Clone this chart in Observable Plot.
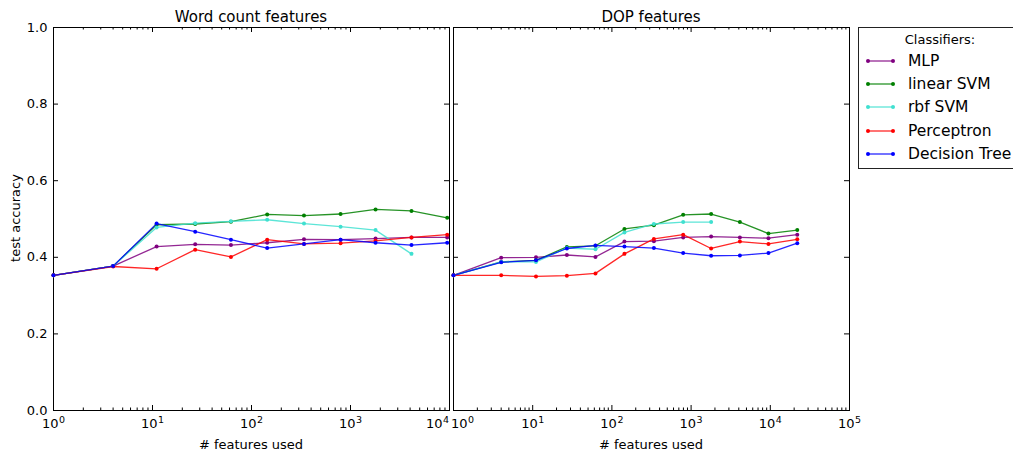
<!DOCTYPE html>
<html><head><meta charset="utf-8">
<script src="https://cdn.jsdelivr.net/npm/d3@7"></script>
<script src="https://cdn.jsdelivr.net/npm/@observablehq/plot@0.6"></script>
<style>
body{margin:0;background:#fff;font-family:"DejaVu Sans",sans-serif;color:#000;}
#root{position:relative;width:1013px;height:454px;overflow:hidden;background:#fff;}
.abs{position:absolute;white-space:nowrap;transform:translate(-50%,-50%);}
.title{font-size:15px;}
.lab{font-size:13px;}
#legend{position:absolute;left:858px;top:27px;width:170px;height:140px;border:1px solid #222;background:#fff;}
#legend .ltitle{position:absolute;left:81px;top:11px;transform:translate(-50%,-50%);font-size:13px;white-space:nowrap;}
#legend .entry{position:absolute;left:0;height:20px;}
#legend .entry span{position:absolute;left:49px;top:0;font-size:15.5px;line-height:20px;white-space:nowrap;}
#legend svg{position:absolute;left:6px;top:5px;}
</style>
</head><body>
<div id="root"></div>
<script>
// ---------- data ----------
const classifiers = ["MLP", "linear SVM", "rbf SVM", "Perceptron", "Decision Tree"];
const colors = ["purple", "green", "turquoise", "red", "blue"];

const wordFeatures = [1, 4, 11, 27, 62, 144, 339, 794, 1790, 4130, 9480];
const wordMLP    = [0.353, 0.377, 0.428, 0.434, 0.432, 0.438, 0.447, 0.446, 0.449, 0.452, 0.452];
const wordLinear = [0.353, 0.377, 0.485, 0.487, 0.493, 0.512, 0.509, 0.513, 0.525, 0.521, 0.503];
const wordRbf    = [0.353, 0.377, 0.478, 0.489, 0.494, 0.498, 0.488, 0.480, 0.471, 0.409];
const wordPerc   = [0.353, 0.376, 0.370, 0.420, 0.401, 0.446, 0.435, 0.437, 0.443, 0.452, 0.459];
const wordTree   = [0.353, 0.377, 0.488, 0.467, 0.446, 0.424, 0.435, 0.446, 0.438, 0.432, 0.438];

const dopFeatures = [1, 4, 11, 27, 62, 144, 339, 794, 1790, 4130, 9480, 21900];
const dopMLP    = [0.353, 0.399, 0.400, 0.406, 0.401, 0.441, 0.442, 0.452, 0.454, 0.452, 0.450, 0.459];
const dopLinear = [0.353, 0.388, 0.392, 0.427, 0.430, 0.474, 0.484, 0.511, 0.513, 0.492, 0.462, 0.471];
const dopRbf    = [0.353, 0.388, 0.388, 0.424, 0.421, 0.465, 0.487, 0.492, 0.492];
const dopPerc   = [0.353, 0.353, 0.350, 0.352, 0.358, 0.409, 0.448, 0.459, 0.423, 0.441, 0.435, 0.447];
const dopTree   = [0.353, 0.387, 0.392, 0.423, 0.431, 0.428, 0.424, 0.411, 0.404, 0.405, 0.411, 0.437];

const yTicks = [0, 0.2, 0.4, 0.6, 0.8, 1.0];

// ---------- helpers ----------
function rows(features, seriesList) {
  return seriesList.flatMap((vals, i) =>
    vals.map((v, j) => ({x: features[j], y: v, c: classifiers[i]})));
}
const fmt = d => "10^" + Math.round(Math.log10(d));
function minorTicks(maxExp) {
  const out = [];
  for (let e = 0; e < maxExp; e++) for (let k = 2; k <= 9; k++) out.push(k * Math.pow(10, e));
  return out;
}
function majorTicks(maxExp) { return d3.range(0, maxExp + 1).map(e => Math.pow(10, e)); }

const W = 396, H = 383;

function panel(data, maxExp, isLeft) {
  const majors = majorTicks(maxExp);
  const marks = [
    Plot.frame({stroke: "black", strokeWidth: 1}),
    Plot.tickX(majors, {x: d => d, insetTop: H - 5, stroke: "black"}),
    Plot.tickX(majors, {x: d => d, insetBottom: H - 5, stroke: "black"}),
    Plot.tickX(minorTicks(maxExp), {x: d => d, insetTop: H - 2.5, stroke: "black"}),
    Plot.tickX(minorTicks(maxExp), {x: d => d, insetBottom: H - 2.5, stroke: "black"}),
    Plot.tickY(yTicks, {y: d => d, insetRight: W - 5, stroke: "black"}),
    Plot.tickY(yTicks, {y: d => d, insetLeft: W - 5, stroke: "black"}),
  ];
  if (isLeft) {
    marks.push(
      Plot.axisX(majors.slice(0, -1), {tickSize: 0, tickPadding: 8, tickFormat: fmt, label: null}),
      Plot.axisX(majors.slice(-1), {tickSize: 0, tickPadding: 8, tickFormat: fmt, label: null, dx: -12}),
      Plot.axisY(yTicks, {tickSize: 0, tickPadding: 6, tickFormat: d3.format(".1f"), label: null})
    );
  } else {
    marks.push(
      Plot.axisX(majors.slice(0, 1), {tickSize: 0, tickPadding: 8, tickFormat: fmt, label: null, dx: 9}),
      Plot.axisX(majors.slice(1), {tickSize: 0, tickPadding: 8, tickFormat: fmt, label: null})
    );
  }
  marks.push(
    Plot.line(data, {x: "x", y: "y", z: "c", stroke: "c", strokeWidth: 1.3, strokeOpacity: 0.85}),
    Plot.dot(data, {x: "x", y: "y", fill: "c", r: 2, stroke: "none"})
  );
  const svg = Plot.plot({
    width: isLeft ? 53 + W + 4 : 4 + W + 4,
    height: 454,
    marginLeft: isLeft ? 53 : 4,
    marginRight: 4,
    marginTop: 27,
    marginBottom: 44,
    style: {fontFamily: "DejaVu Sans, sans-serif", fontSize: "13px", color: "black", background: "transparent", overflow: "visible"},
    x: {type: "log", domain: [1, Math.pow(10, maxExp)], axis: null},
    y: {domain: [0, 1], axis: null},
    color: {domain: classifiers, range: colors},
    marks
  });
  // render "10^k" as 10 with a real superscript
  svg.querySelectorAll("text").forEach(t => {
    const m = /^10\^(\d)$/.exec(t.textContent);
    if (!m) return;
    t.textContent = "10";
    const ts = document.createElementNS("http://www.w3.org/2000/svg", "tspan");
    ts.setAttribute("dy", "-0.45em");
    ts.setAttribute("font-size", "9.5px");
    ts.setAttribute("dx", "0.5");
    ts.textContent = m[1];
    t.appendChild(ts);
  });
  return svg;
}

const root = document.getElementById("root");
const left = panel(rows(wordFeatures, [wordMLP, wordLinear, wordRbf, wordPerc, wordTree]), 4, true);
left.style.position = "absolute"; left.style.left = "0px"; left.style.top = "0px";
const right = panel(rows(dopFeatures, [dopMLP, dopLinear, dopRbf, dopPerc, dopTree]), 5, false);
right.style.position = "absolute"; right.style.left = "449px"; right.style.top = "0px";
root.appendChild(left);
root.appendChild(right);

function addText(txt, cls, x, y, rot) {
  const d = document.createElement("div");
  d.className = "abs " + cls;
  d.textContent = txt;
  d.style.left = x + "px"; d.style.top = y + "px";
  if (rot) d.style.transform = "translate(-50%,-50%) rotate(-90deg)";
  root.appendChild(d);
}
addText("Word count features", "title", 251, 17);
addText("DOP features", "title", 651, 17);
addText("# features used", "lab", 251, 444);
addText("# features used", "lab", 651, 444);
addText("test accuracy", "lab", 15, 218, true);

// legend
const lg = document.createElement("div");
lg.id = "legend";
const lt = document.createElement("div");
lt.className = "ltitle"; lt.textContent = "Classifiers:";
lg.appendChild(lt);
classifiers.forEach((c, i) => {
  const e = document.createElement("div");
  e.className = "entry";
  e.style.top = (23 + i * 23.2) + "px";
  e.style.width = "170px";
  e.innerHTML = `<svg width="30" height="10"><line x1="3" y1="5" x2="28" y2="5" stroke="${colors[i]}" stroke-width="1.3" stroke-opacity="0.85"/><circle cx="3" cy="5" r="2" fill="${colors[i]}"/><circle cx="28" cy="5" r="2" fill="${colors[i]}"/></svg>`;
  const s = document.createElement("span");
  s.textContent = c;
  e.appendChild(s);
  lg.appendChild(e);
});
root.appendChild(lg);
</script>
</body></html>
